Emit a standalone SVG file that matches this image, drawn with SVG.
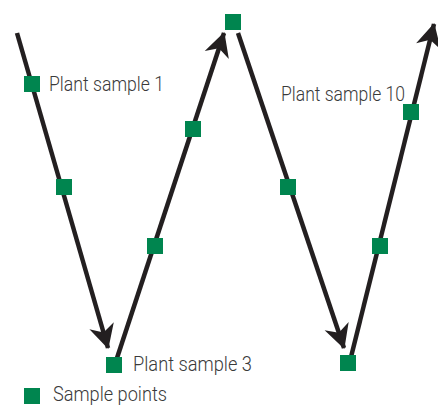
<svg xmlns="http://www.w3.org/2000/svg" width="438" height="406" viewBox="0 0 438 406">
  <style>
    .pt { fill: #00854f; }
    .ln { stroke: #231f20; stroke-width: 4.5; fill: none; }
    .lbl { font-family: Roboto, "Liberation Sans", sans-serif; font-size: 20.5px; font-weight: 300; fill: #3a3a3a; }
  </style>
  <defs>
    <marker id="ah" markerUnits="userSpaceOnUse" markerWidth="30" markerHeight="30" viewBox="-24 -13 26 26" refX="0" refY="0" orient="auto">
      <path d="M1,0 L-20,-11 L-14,0 L-20,11 Z" fill="#231f20"/>
    </marker>
  </defs>
  <rect width="438" height="406" fill="#ffffff"/>
  <g id="connectors">
    <line class="ln" x1="17" y1="33" x2="108" y2="348" marker-end="url(#ah)"/>
    <line class="ln" x1="117" y1="358" x2="224" y2="33" marker-end="url(#ah)"/>
    <line class="ln" x1="238" y1="33" x2="344" y2="348" marker-end="url(#ah)"/>
    <line class="ln" x1="351" y1="357" x2="434" y2="24" marker-end="url(#ah)"/>
  </g>
  <g id="sample1"><rect class="pt" x="24" y="76" width="16" height="16"/><text class="lbl" x="49" y="91" textLength="115" lengthAdjust="spacingAndGlyphs">Plant sample 1</text></g>
  <g id="sample2"><rect class="pt" x="56" y="179" width="16" height="16"/></g>
  <g id="sample3"><rect class="pt" x="106" y="357" width="16" height="16"/><text class="lbl" x="133" y="371" textLength="119" lengthAdjust="spacingAndGlyphs">Plant sample 3</text></g>
  <g id="sample4"><rect class="pt" x="147" y="238" width="16" height="16"/></g>
  <g id="sample5"><rect class="pt" x="185" y="121" width="16" height="16"/></g>
  <g id="sample6"><rect class="pt" x="225" y="14" width="16" height="16"/></g>
  <g id="sample7"><rect class="pt" x="280" y="179" width="16" height="16"/></g>
  <g id="sample8"><rect class="pt" x="340" y="355" width="16" height="16"/></g>
  <g id="sample9"><rect class="pt" x="372" y="238" width="16" height="16"/></g>
  <g id="sample10"><rect class="pt" x="403" y="104" width="16" height="16"/><text class="lbl" x="281" y="101" textLength="124" lengthAdjust="spacingAndGlyphs">Plant sample 10</text></g>
  <g id="legend"><rect class="pt" x="24" y="388" width="16" height="16"/><text class="lbl" x="53" y="401" textLength="114" lengthAdjust="spacingAndGlyphs">Sample points</text></g>
</svg>
